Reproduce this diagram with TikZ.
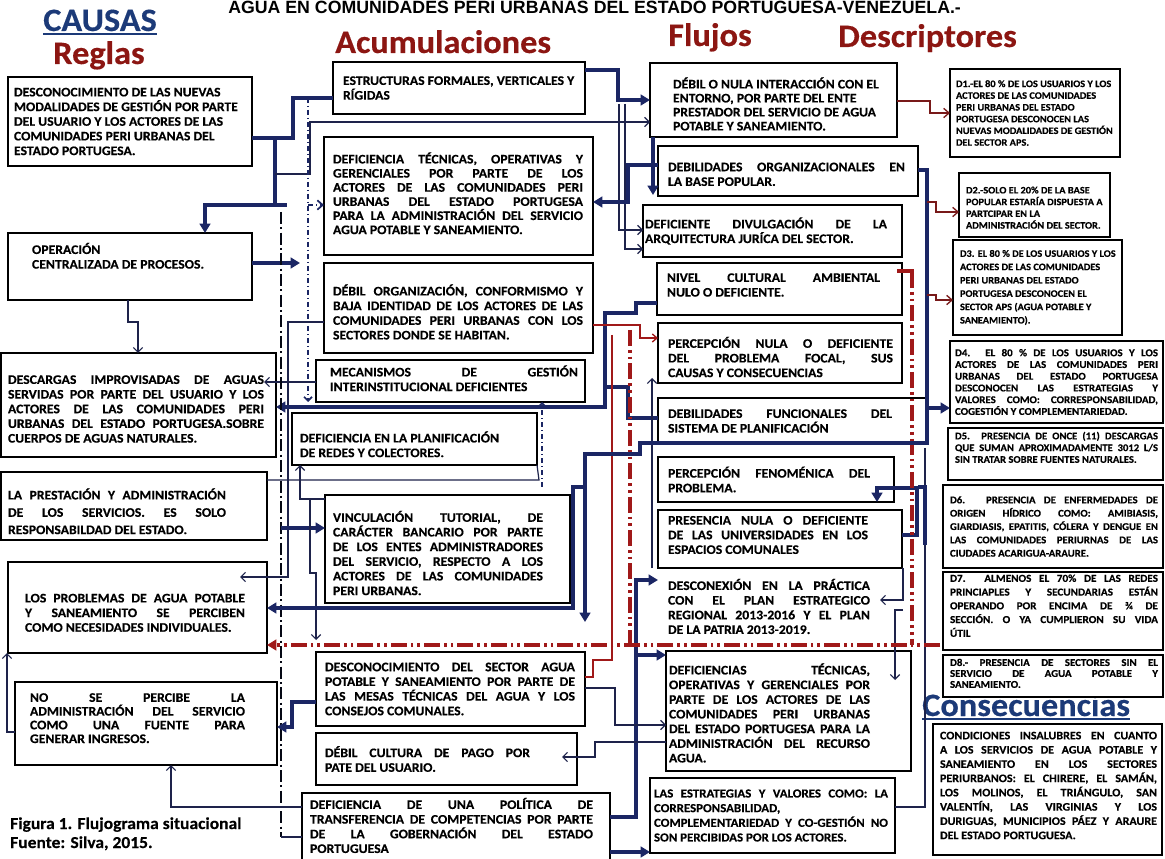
\documentclass[tikz,border=0pt]{standalone}
\usepackage{fontspec}
\setmainfont{Carlito}[FakeStretch=1.05,BoldFeatures={FakeBold=0.35}]
\newfontfamily\titlefont{Liberation Sans}
\usetikzlibrary{arrows.meta}
\definecolor{navy}{RGB}{27,38,100}
\definecolor{thinc}{RGB}{30,35,75}
\definecolor{redc}{RGB}{160,25,25}
\definecolor{marc}{RGB}{120,25,25}
\definecolor{hdred}{RGB}{140,22,18}
\definecolor{hdblue}{RGB}{28,58,120}
\newcommand\JL[1]{\makebox[\hsize][s]{#1}}
\newcommand\mf{\bfseries\fontsize{9.8}{11}\selectfont}
\newcommand\bx[9][]{%
  \pgfmathsetmacro\bxW{(#5-#3)*0.75}%
  \pgfmathsetmacro\bxH{(#6-#4)*0.75}%
  \pgfmathsetmacro\bxT{(#8-#7)*0.75}%
  \node[boxs,minimum width=\bxW pt,minimum height=\bxH pt] (#2) at ({(#3+#5)/2},{(#4+#6)/2}) {};%
  \node[txts,text width=\bxT pt,#1] (#2t) at ({(#7+#8)/2},{(#4+#6)/2}) {\spaceskip=0pt\xspaceskip=0pt\relax #9};%
}
\begin{document}
\begin{tikzpicture}[x=0.75pt,y=-0.75pt,
  boxs/.style={draw=black,line width=1.2pt,fill=white,inner sep=0pt,outer sep=0pt},
  txts/.style={inner sep=0pt,align=left,font=\mf},
  hd/.style={inner sep=0pt,anchor=base west,font=\bfseries\fontsize{24.5}{26}\selectfont},
  thk/.style={draw=navy,line width=2.4pt},
  thka/.style={thk,-{Triangle[length=7pt,width=8pt]}},
  thn/.style={draw=thinc,line width=0.9pt},
  thna/.style={thn,-{Straight Barb[length=3.5pt,width=7pt]}},
  dotn/.style={draw=navy,line width=1.3pt,dash pattern=on 4pt off 2pt on 1pt off 2pt},
  ddk/.style={draw=black!80!navy,line width=1.8pt,dash pattern=on 9pt off 2.5pt on 1.5pt off 2.5pt},
  redd/.style={draw=redc,line width=2.4pt,dash pattern=on 12pt off 3pt on 2pt off 3pt on 2pt off 3pt},
  redt/.style={draw=redc,line width=1pt},
  mar/.style={draw=marc,line width=1pt,-{Straight Barb[length=4pt,width=7pt]}}]
\useasboundingbox (0,0) rectangle (1165,859);
\fill[white] (0,0) rectangle (1165,859);
\clip (0,0) rectangle (1165,859);

% ---------- headings ----------
\node[anchor=base west,inner sep=0pt,font=\titlefont\bfseries\fontsize{13.3}{14}\selectfont] (title) at (228,14) {AGUA EN COMUNIDADES PERI URBANAS DEL ESTADO PORTUGUESA-VENEZUELA.-};
\node[hd,text=hdblue] (causas) at (43,31) {CAUSAS};
\draw[hdblue,line width=1.3pt] ([yshift=-2.5pt]causas.base west) -- ([yshift=-2.5pt]causas.base east);
\node[hd,text=hdred] (reglas) at (53,64) {Reglas};
\node[hd,text=hdred] (acum) at (335,53) {Acumulaciones};
\node[hd,text=hdred] (flujos) at (668,46) {Flujos};
\node[hd,text=hdred] (desc) at (838,47) {Descriptores};
\node[hd,text=hdblue] (conshd) at (922,716) {Consecuencias};
\draw[hdblue,line width=1.3pt] ([yshift=-2.5pt]conshd.base west) -- ([yshift=-2.5pt]conshd.base east);
\node[anchor=base west,inner sep=0pt,align=left,font=\bfseries\fontsize{12.5}{15}\selectfont] (cap1) at (10,829) {Figura 1. Flujograma situacional};
\node[anchor=base west,inner sep=0pt,align=left,font=\bfseries\fontsize{12.5}{15}\selectfont] (cap2) at (10,848) {Fuente: Silva, 2015.};

% ---------- Reglas ----------
\bx{R1}{8}{77}{252}{166}{14}{248}{DESCONOCIMIENTO  DE LAS NUEVAS\\MODALIDADES DE GESTIÓN  POR PARTE\\DEL USUARIO Y LOS ACTORES DE LAS\\COMUNIDADES PERI URBANAS DEL\\ESTADO PORTUGESA.}
\bx[yshift=8pt]{R2}{8}{233}{252}{300}{32}{240}{OPERACIÓN\\CENTRALIZADA DE PROCESOS.}
\bx[yshift=-3pt]{R3}{1}{353}{276}{457}{8}{264}{\JL{DESCARGAS IMPROVISADAS DE AGUAS}\\\JL{SERVIDAS POR PARTE DEL USUARIO Y LOS}\\\JL{ACTORES DE LAS COMUNIDADES PERI}\\\JL{URBANAS DEL ESTADO PORTUGESA.SOBRE}\\CUERPOS DE AGUAS NATURALES.}
\bx[yshift=-4pt,font=\bfseries\fontsize{9.8}{13}\selectfont]{R4}{1}{472}{267}{540}{8}{226}{\JL{LA PRESTACIÓN Y ADMINISTRACIÓN}\\\JL{DE LOS SERVICIOS. ES SOLO}\\RESPONSABILDAD DEL ESTADO.}
\bx[yshift=-4pt]{R5}{8}{562}{267}{653}{25}{245}{\JL{LOS PROBLEMAS DE AGUA POTABLE}\\\JL{Y SANEAMIENTO SE PERCIBEN}\\COMO NECESIDADES INDIVIDUALES.}
\bx[yshift=4pt,font=\bfseries\fontsize{9.8}{10.3}\selectfont]{R6}{15}{682}{277}{765}{30}{245}{\JL{NO SE PERCIBE LA}\\\JL{ADMINISTRACIÓN DEL SERVICIO}\\\JL{COMO UNA FUENTE PARA}\\GENERAR INGRESOS.}

% ---------- Acumulaciones ----------
\bx{A1}{333}{62}{585}{114}{343}{582}{ESTRUCTURAS FORMALES, VERTICALES Y\\RÍGIDAS}
\bx[yshift=2pt,font=\bfseries\fontsize{9.8}{10.6}\selectfont]{A2}{324}{137}{593}{255}{333}{583}{\JL{DEFICIENCIA TÉCNICAS, OPERATIVAS Y}\\\JL{GERENCIALES POR PARTE DE LOS}\\\JL{ACTORES DE LAS COMUNIDADES PERI}\\\JL{URBANAS DEL ESTADO PORTUGESA}\\\JL{PARA LA ADMINISTRACIÓN DEL SERVICIO}\\AGUA POTABLE Y SANEAMIENTO.}
\bx[yshift=-3pt]{A3}{324}{263}{593}{353}{333}{583}{\JL{DÉBIL ORGANIZACIÓN, CONFORMISMO Y}\\\JL{BAJA IDENTIDAD DE LOS ACTORES DE LAS}\\\JL{COMUNIDADES PERI URBANAS CON LOS}\\SECTORES DONDE SE HABITAN.}
\bx[yshift=2pt]{A4}{316}{360}{585}{402}{330}{578}{\JL{MECANISMOS DE GESTIÓN}\\INTERINSTITUCIONAL DEFICIENTES}
\bx[yshift=-4pt]{A5}{292}{413}{537}{465}{300}{525}{DEFICIENCIA EN LA PLANIFICACIÓN\\DE REDES Y COLECTORES.}
\bx[yshift=-3pt]{A6}{325}{495}{570}{603}{333}{543}{\JL{VINCULACIÓN TUTORIAL, DE}\\\JL{CARÁCTER BANCARIO POR PARTE}\\\JL{DE LOS ENTES ADMINISTRADORES}\\\JL{DEL SERVICIO, RESPECTO A LOS}\\\JL{ACTORES DE LAS COMUNIDADES}\\PERI URBANAS.}
\bx{A7}{316}{652}{585}{726}{325}{575}{\JL{DESCONOCIMIENTO DEL SECTOR AGUA}\\\JL{POTABLE Y SANEAMIENTO POR PARTE DE}\\\JL{LAS MESAS TÉCNICAS DEL AGUA Y LOS}\\CONSEJOS COMUNALES.}
\bx{A8}{316}{733}{577}{785}{325}{530}{\JL{DÉBIL CULTURA DE PAGO POR}\\PATE DEL USUARIO.}
\bx[yshift=3pt]{A9}{302}{793}{610}{866}{310}{593}{\JL{DEFICIENCIA DE UNA POLÍTICA DE}\\\JL{TRANSFERENCIA DE COMPETENCIAS POR PARTE}\\\JL{DE LA GOBERNACIÓN DEL ESTADO}\\PORTUGUESA}

% ---------- Flujos ----------
\bx[yshift=-3pt,font=\bfseries\fontsize{9.8}{10.5}\selectfont]{F1}{650}{63}{897}{137}{673}{892}{DÉBIL O NULA INTERACCIÓN  CON EL\\ENTORNO, POR PARTE DEL ENTE\\PRESTADOR DEL SERVICIO DE AGUA\\POTABLE Y SANEAMIENTO.}
\bx[yshift=-2.5pt]{F2}{658}{146}{918}{196}{668}{905}{\JL{DEBILIDADES ORGANIZACIONALES EN}\\LA BASE POPULAR.}
\bx{F3}{643}{205}{902}{257}{645}{887}{\JL{DEFICIENTE DIVULGACIÓN DE LA}\\ARQUITECTURA JURÍCA DEL SECTOR.}
\bx[yshift=3pt]{F4}{657}{263}{902}{315}{667}{880}{\JL{NIVEL CULTURAL AMBIENTAL}\\NULO O DEFICIENTE.}
\bx[yshift=-3pt]{F5}{658}{323}{902}{383}{668}{893}{\JL{PERCEPCIÓN NULA O DEFICIENTE}\\\JL{DEL PROBLEMA FOCAL, SUS}\\CAUSAS Y CONSECUENCIAS}
\bx{F6}{658}{398}{927}{444}{668}{892}{\JL{DEBILIDADES FUNCIONALES DEL}\\SISTEMA DE PLANIFICACIÓN}
\bx{F7}{658}{457}{894}{502}{668}{870}{\JL{PERCEPCIÓN FENOMÉNICA DEL}\\PROBLEMA.}
\bx[yshift=3pt]{F8}{658}{510}{902}{568}{668}{868}{\JL{PRESENCIA NULA O DEFICIENTE}\\\JL{DE LAS UNIVERSIDADES EN LOS}\\ESPACIOS COMUNALES}
\begin{scope}[boxs/.append style={draw=none,fill=none}]
\bx{F9}{658}{570}{902}{643}{668}{870}{\JL{DESCONEXIÓN EN LA PRÁCTICA}\\\JL{CON EL PLAN ESTRATEGICO}\\\JL{REGIONAL 2013-2016 Y EL PLAN}\\DE LA PATRIA 2013-2019.}
\end{scope}
\bx[yshift=-1.5pt]{F10}{666}{651}{911}{771}{669}{870}{\JL{DEFICIENCIAS TÉCNICAS,}\\\JL{OPERATIVAS Y GERENCIALES POR}\\\JL{PARTE DE LOS ACTORES DE LAS}\\\JL{COMUNIDADES PERI URBANAS}\\\JL{DEL ESTADO PORTUGESA PARA LA}\\\JL{ADMINISTRACIÓN DEL RECURSO}\\AGUA.}
\bx[font=\bfseries\fontsize{9.2}{11}\selectfont]{F11}{650}{778}{895}{853}{654}{888}{\JL{LAS ESTRATEGIAS Y VALORES COMO: LA}\\CORRESPONSABILIDAD,\\\JL{COMPLEMENTARIEDAD Y CO-GESTIÓN NO}\\SON PERCIBIDAS POR LOS ACTORES.}

% ---------- Descriptores ----------
\bx[font=\bfseries\fontsize{7.4}{8.8}\selectfont]{D1}{950}{69}{1120}{157}{956}{1116}{D1.-EL  80 \% DE LOS USUARIOS Y LOS\\ACTORES DE LAS COMUNIDADES\\PERI URBANAS DEL ESTADO\\PORTUGESA DESCONOCEN LAS\\NUEVAS MODALIDADES DE GESTIÓN\\DEL SECTOR  APS.}
\bx[yshift=-2pt,font=\bfseries\fontsize{7.4}{8.8}\selectfont]{D2}{959}{173}{1110}{237}{966}{1105}{D2.-SOLO EL 20\% DE LA BASE\\POPULAR ESTARÍA DISPUESTA A\\PARTCIPAR EN LA\\ADMINISTRACIÓN DEL SECTOR.}
\bx[font=\bfseries\fontsize{7.4}{10}\selectfont]{D3}{953}{240}{1122}{335}{960}{1118}{D3. EL  80 \% DE LOS USUARIOS Y LOS\\ACTORES DE LAS COMUNIDADES\\PERI URBANAS DEL ESTADO\\PORTUGESA DESCONOCEN EL\\SECTOR  APS (AGUA POTABLE Y\\SANEAMIENTO).}
\bx[font=\bfseries\fontsize{7.8}{8.8}\selectfont]{D4}{950}{341}{1163}{423}{955}{1158}{\JL{D4. EL  80 \% DE LOS USUARIOS Y LOS}\\\JL{ACTORES DE LAS COMUNIDADES PERI}\\\JL{URBANAS DEL ESTADO PORTUGESA}\\\JL{DESCONOCEN LAS ESTRATEGIAS Y}\\\JL{VALORES COMO: CORRESPONSABILIDAD,}\\COGESTIÓN Y COMPLEMENTARIEDAD.}
\bx[yshift=5pt,font=\bfseries\fontsize{7.6}{8.8}\selectfont]{D5}{948}{428}{1163}{480}{955}{1158}{\JL{D5. PRESENCIA DE ONCE (11) DESCARGAS}\\\JL{QUE SUMAN APROXIMADAMENTE 3012 L/S}\\SIN TRATAR SOBRE FUENTES NATURALES.}
\bx[font=\bfseries\fontsize{7.7}{10}\selectfont]{D6}{943}{485}{1163}{568}{950}{1158}{\JL{D6. PRESENCIA DE ENFERMEDADES DE}\\\JL{ORIGEN HÍDRICO COMO: AMIBIASIS,}\\\JL{GIARDIASIS, EPATITIS, CÓLERA Y DENGUE EN}\\\JL{LAS COMUNIDADES PERIURNAS DE LAS}\\CIUDADES ACARIGUA-ARAURE.}
\bx[yshift=4pt,font=\bfseries\fontsize{8}{10.3}\selectfont]{D7}{943}{572}{1163}{650}{950}{1158}{\JL{D7. ALMENOS EL 70\% DE LAS REDES}\\\JL{PRINCIAPLES Y SECUNDARIAS ESTÁN}\\\JL{OPERANDO POR ENCIMA DE ¾ DE}\\\JL{SECCIÓN. O YA CUMPLIERON SU VIDA}\\ÚTIL}
\bx[yshift=2pt,font=\bfseries\fontsize{7.8}{8.2}\selectfont]{D8}{943}{655}{1163}{697}{950}{1158}{\JL{D8.- PRESENCIA DE SECTORES SIN EL}\\\JL{SERVICIO DE AGUA POTABLE Y}\\SANEAMIENTO.}
\bx[yshift=3pt,font=\bfseries\fontsize{8.6}{10.7}\selectfont]{C1}{933}{724}{1162}{855}{940}{1157}{\JL{CONDICIONES INSALUBRES EN CUANTO}\\\JL{A LOS SERVICIOS DE AGUA POTABLE Y}\\\JL{SANEAMIENTO EN LOS SECTORES}\\\JL{PERIURBANOS: EL CHIRERE, EL SAMÁN,}\\\JL{LOS MOLINOS, EL TRIÁNGULO, SAN}\\\JL{VALENTÍN, LAS VIRGINIAS Y LOS}\\\JL{DURIGUAS, MUNICIPIOS PÁEZ Y ARAURE}\\DEL ESTADO PORTUGUESA.}

% ---------- connectors: left ----------
\draw[thk] (R1.east |- 0,138) -- (293,138) -- (293,98) -- (A1.west |- 0,98);
\draw[thka] (275,138) -- (275,205) -- (205,205) -- (R2.north -| 205,0);
\draw[thk] (275,205) -- (287,205);
\draw[thna] (275,174) -- (310,174) -- (310,122) -- (F1.west |- 0,122);
\draw[dotn,-{Straight Barb[length=3pt,width=6pt]}] (308,98) -- (308,402);
\draw[dotn,-{Straight Barb[length=4pt,width=7pt]}] (308,205) -- (A2.west |- 0,205);
\draw[thka] (R2.east |- 0,263) -- (300,263);
\draw[thna] (R2.south -| 128,0) -- (128,322) -- (138,322) -- (R3.north -| 138,0);
\draw[thna] (A3.west |- 0,322) -- (288,322) -- (288,577) -- (240,577);
\draw[thna] (A4.west |- 0,382) -- (264,382);
\draw[thka] (F4.west |- 0,303) -- (636,303) -- (636,313) -- (605,313) -- (605,407) -- (R3.east |- 0,407);
\draw[thk] (605,387) -- (628,387) -- (628,418) -- (F6.west |- 0,418);
\draw[ddk] (281,212) -- (281,837);
\draw[thn] (281,837) -- (A9.west |- 0,837);
\draw[thka] (281,528) -- (A6.west |- 0,528);
\draw[thna] (A6.west |- 0,499) -- (300,499) -- (A5.south -| 300,0);
\draw[thna] (310,499) -- (310,573) -- (316,573) -- (316,640);
\draw[thn] (R4.east |- 0,480) -- (539,480) -- (A5.south east);
\draw[dotn,-{Straight Barb[length=3pt,width=6pt]}] (542,487) -- (A4.south -| 542,0);
\draw[thka] (585,487) -- (573,487) -- (573,608) -- (R5.east |- 0,608);
\draw[thna] (R6.west |- 0,732) -- (7,732) -- (R5.south -| 7,0);
\draw[thna] (A9.west |- 0,807) -- (171,807) -- (R6.south -| 171,0);
\draw[thka] (A7.west |- 0,702) -- (292,702) -- (292,727) -- (R6.east |- 0,727);

% ---------- connectors: middle ----------
\draw[thka] (A1.east |- 0,70) -- (618,70) -- (618,100) -- (F1.west |- 0,100);
\draw[thna] (619,104) -- (619,230) -- (F3.west |- 0,230);
\draw[thna] (625,104) -- (625,249) -- (F3.west |- 0,249);
\draw[thka] (F2.west |- 0,165) -- (628,165) -- (628,202) -- (A2.east |- 0,202);
\draw[thka] (F1.south -| 653,0) -- (653,195);
\draw[thna] (652,568) -- (652,378);
\draw[thka] (A9.east |- 0,817) -- (636,817) -- (636,580) -- (F9.west |- 0,580);
\draw[thka] (636,655) -- (F10.west |- 0,655);
\draw[thka] (A9.east |- 0,852) -- (650,852);
\draw[thna] (A7.east |- 0,688) -- (615,688) -- (615,725) -- (F10.west |- 0,725);
\draw[thna] (F10.west |- 0,742) -- (595,742) -- (595,757) -- (562,757);
\draw[thka] (F8.east |- 0,535) -- (917,535) -- (917,488) -- (877,488) -- (F7.south -| 877,0);
\draw[thna] (903,568) -- (903,600) -- (880,600);
\draw[thna] (903,610) -- (895,610) -- (895,680);
\draw[thn] (F11.east |- 0,807) -- (925,807) -- (925,448);
\draw[thk] (918,487) -- (925,487) -- (925,545);

% ---------- red frame ----------
\draw[redd] (630,330) -- (630,645);
\draw[redd] (912,272) -- (912,645);
\draw[redd,-{Triangle[length=7pt,width=8pt]}] (940,645) -- (R5.east |- 0,645);
\draw[redc,line width=2.6pt] (897,271) -- (914,271);
\draw[redt,-{Straight Barb[length=3.5pt,width=6pt]}] (A3.east |- 0,325) -- (640,325) -- (640,338) -- (F5.west |- 0,338);
\draw[redt] (612,335) -- (612,660) -- (593,660) -- (593,677) -- (A7.east |- 0,677);

% ---------- to descriptors ----------
\draw[thka] (F2.east |- 0,170) -- (927,170) -- (927,443) -- (640,443) -- (640,454) -- (585,454) -- (585,622);
\draw[mar] (F1.east |- 0,101) -- (930,101) -- (930,113) -- (D1.west |- 0,113);
\draw[mar] (927,202) -- (936,202) -- (936,212) -- (D2.west |- 0,212);
\draw[mar] (927,295) -- (936,295) -- (936,300) -- (D3.west |- 0,300);
\draw[thka] (927,408) -- (D4.west |- 0,408);
\end{tikzpicture}
\end{document}
